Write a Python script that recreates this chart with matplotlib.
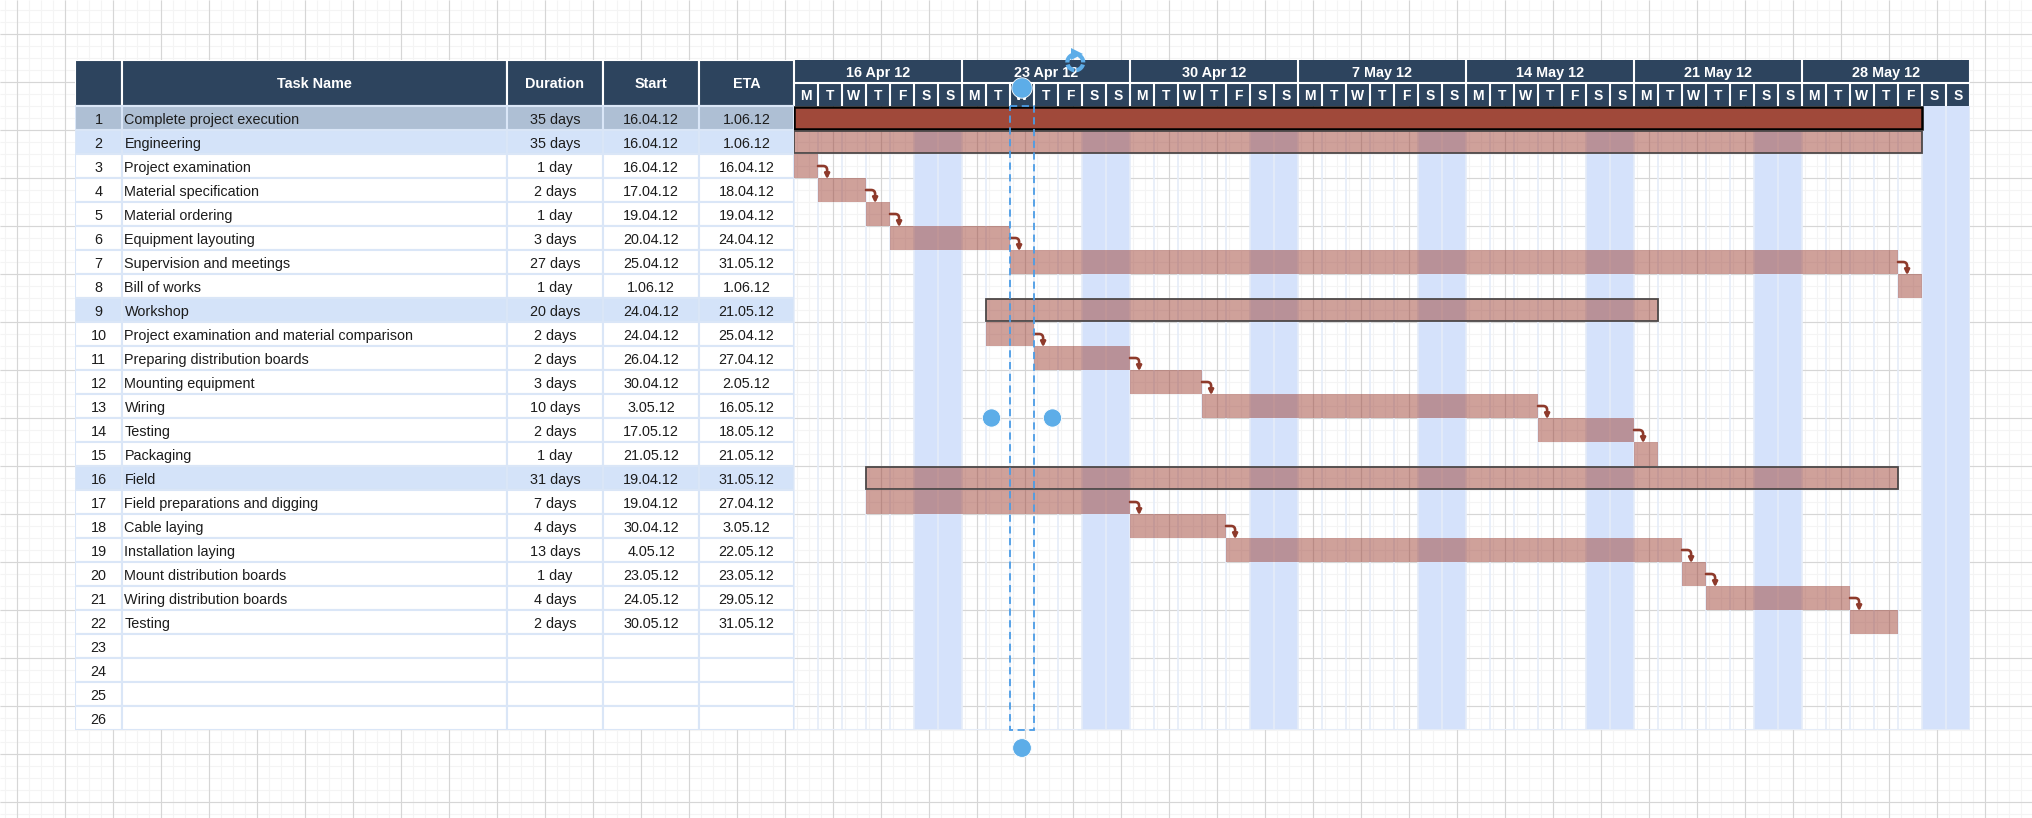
import numpy as np
import matplotlib
matplotlib.use('Agg')
import matplotlib.pyplot as plt
from matplotlib.patches import Rectangle, Ellipse
from datetime import datetime, timedelta

plt.rcParams['font.family'] = ['Liberation Sans', 'DejaVu Sans']

# ─── Données du planning ──────────────────────────────────────────────────
task_ids = list(range(1, 27))
task_names = ["Complete project execution", "Engineering", "Project examination",
              "Material specification", "Material ordering", "Equipment layouting",
              "Supervision and meetings", "Bill of works", "Workshop",
              "Project examination and material comparison", "Preparing distribution boards",
              "Mounting equipment", "Wiring", "Testing", "Packaging", "Field",
              "Field preparations and digging", "Cable laying", "Installation laying",
              "Mount distribution boards", "Wiring distribution boards", "Testing"]
durations = ["35 days", "35 days", "1 day", "2 days", "1 day", "3 days", "27 days", "1 day",
             "20 days", "2 days", "2 days", "3 days", "10 days", "2 days", "1 day", "31 days",
             "7 days", "4 days", "13 days", "1 day", "4 days", "2 days"]
starts = ["16.04.12", "16.04.12", "16.04.12", "17.04.12", "19.04.12", "20.04.12", "25.04.12",
          "1.06.12", "24.04.12", "24.04.12", "26.04.12", "30.04.12", "3.05.12", "17.05.12",
          "21.05.12", "19.04.12", "19.04.12", "30.04.12", "4.05.12", "23.05.12", "24.05.12",
          "30.05.12"]
etas = ["1.06.12", "1.06.12", "16.04.12", "18.04.12", "19.04.12", "24.04.12", "31.05.12",
        "1.06.12", "21.05.12", "25.04.12", "27.04.12", "2.05.12", "16.05.12", "18.05.12",
        "21.05.12", "31.05.12", "27.04.12", "3.05.12", "22.05.12", "23.05.12", "29.05.12",
        "31.05.12"]
project_row = 1
summary_rows = [2, 9, 16]
dependencies = [(3, 4), (4, 5), (5, 6), (6, 7), (7, 8), (10, 11), (11, 12), (12, 13),
                (13, 14), (14, 15), (17, 18), (18, 19), (19, 20), (20, 21), (21, 22)]
col_labels = ["", "Task Name", "Duration", "Start", "ETA"]
week_labels = ["16 Apr 12", "23 Apr 12", "30 Apr 12", "7 May 12", "14 May 12",
               "21 May 12", "28 May 12"]
day_letters = ["M", "T", "W", "T", "F", "S", "S"]
t0 = datetime(2012, 4, 16)
n_days = 49
n_rows = 26

# ─── Style ────────────────────────────────────────────────────────────────
NAVY = '#2d445e'
ROW1 = '#aebfd4'
HILITE = '#d4e3f9'
CELL_LINE = '#dae6f7'
WEEKEND = '#d5e2fb'
DAYLINE = '#e5ecf8'
BAR = (0.60, 0.216, 0.165, 0.47)
ARROW = '#8e3a2b'
SEL = '#4c9de6'
HANDLE = '#5dade8'
TXT = '#1c1c1c'
FS = 10.4

W, H = 2032, 818
fig = plt.figure(figsize=(W / 100, H / 100), dpi=100)

# fond quadrillé type éditeur
bg = fig.add_axes([0, 0, 1, 1])
bg.set_xlim(0, W); bg.set_ylim(H, 0); bg.axis('off')
bg.vlines(np.arange(5, W, 12), 0, H, color='#f4f4f4', lw=0.8)
bg.hlines(np.arange(10, H, 12), 0, W, color='#f4f4f4', lw=0.8)
bg.vlines(np.arange(17, W, 48), 0, H, color='#d6d6d6', lw=0.8)
bg.hlines(np.arange(34, H, 48), 0, W, color='#d6d6d6', lw=0.8)


def fig_rect(x0, x1, y0, y1):
    return [x0 / W, 1 - y1 / H, (x1 - x0) / W, (y1 - y0) / H]


hh = 46 / 24  # hauteur d'en-tête en unités de ligne
BL = 0.73     # position de la ligne de base dans une ligne

# ─── Tableau ──────────────────────────────────────────────────────────────
cols = [75, 122, 507, 603, 699, 794]
tx = fig.add_axes(fig_rect(cols[0], cols[-1], 60, 730))
tx.set_xlim(cols[0], cols[-1]); tx.set_ylim(n_rows, -hh); tx.axis('off')
for i, lab in enumerate(col_labels):
    tx.add_patch(Rectangle((cols[i], -hh), cols[i + 1] - cols[i], hh, facecolor=NAVY,
                           edgecolor='white', lw=1.5))
    tx.text((cols[i] + cols[i + 1]) / 2, -hh / 2 + 0.22, lab, color='white', fontsize=FS,
            fontweight='bold', ha='center', va='baseline')

for r in range(n_rows):
    tid = task_ids[r]
    fc = ROW1 if tid == project_row else (HILITE if tid in summary_rows else 'white')
    for i in range(5):
        tx.add_patch(Rectangle((cols[i], r), cols[i + 1] - cols[i], 1, facecolor=fc,
                               edgecolor=CELL_LINE, lw=1.5))
    tx.text((cols[0] + cols[1]) / 2, r + BL, str(tid), fontsize=FS, color=TXT,
            ha='center', va='baseline')
    if r < len(task_names):
        tx.text(cols[1] + 2.5, r + BL, task_names[r], fontsize=FS, color=TXT,
                ha='left', va='baseline')
        for i, v in zip((2, 3, 4), (durations[r], starts[r], etas[r])):
            tx.text((cols[i] + cols[i + 1]) / 2, r + BL, v, fontsize=FS, color=TXT,
                    ha='center', va='baseline')

# ─── Diagramme de Gantt ───────────────────────────────────────────────────
gx = fig.add_axes(fig_rect(794, 794 + 24 * n_days, 60, 730))
gx.set_xlim(0, n_days); gx.set_ylim(n_rows, -hh); gx.axis('off')

days = [t0 + timedelta(d) for d in range(n_days)]
for d, day in enumerate(days):
    if day.weekday() >= 5:
        gx.add_patch(Rectangle((d, 0), 1, n_rows, facecolor=WEEKEND, edgecolor='none', zorder=1))
gx.vlines(np.arange(n_days + 1), 0, n_rows, color=DAYLINE, lw=1.2, zorder=2)
gx.hlines(n_rows, 0, n_days, color=DAYLINE, lw=1.5, zorder=2)

# en-tête semaines / jours
gx.add_patch(Rectangle((0, -hh), n_days, hh, facecolor=NAVY, edgecolor='none', zorder=3))
gx.hlines(-hh / 2, 0, n_days, color='white', lw=1.5, zorder=4)
gx.vlines(np.arange(0, n_days + 1, 7), -hh, -hh / 2, color='white', lw=1.5, zorder=4)
gx.vlines(np.arange(n_days + 1), -hh / 2, 0, color='white', lw=1.5, zorder=4)
for w, lab in enumerate(week_labels):
    gx.text(7 * w + 3.5, -hh / 2 - 0.25, lab, color='white', fontsize=FS, fontweight='bold',
            ha='center', va='baseline', zorder=5)
for d, day in enumerate(days):
    gx.text(d + 0.5, -0.25, day_letters[day.weekday()], color='white', fontsize=10,
            fontweight='bold', ha='center', va='baseline', zorder=5)

# barres : une tâche suivie d'une autre s'étend jusqu'au début de la suivante
bar_left, bar_end = [], []
for s, e in zip(starts, etas):
    sd = datetime.strptime(s, '%d.%m.%y')
    ed = datetime.strptime(e, '%d.%m.%y')
    bar_left.append((sd - t0).days)
    bar_end.append((ed - t0).days + 1)
for a, b in dependencies:
    bar_end[a - 1] = max(bar_end[a - 1], bar_left[b - 1])

for r, (l, e) in enumerate(zip(bar_left, bar_end)):
    tid = task_ids[r]
    w = e - l
    if tid == project_row:
        gx.barh(r + 0.5, w, left=l, height=0.95, color='#a0493a', edgecolor='black',
                lw=1.8, zorder=3)
    elif tid in summary_rows:
        gx.barh(r + 0.5, w, left=l, height=0.95, color=BAR, edgecolor='#4d4848',
                lw=1.3, zorder=3)
    else:
        gx.barh(r + 0.5, w, left=l, height=0.96, color=BAR, edgecolor='none', zorder=3)

# liens de dépendance
for a, b in dependencies:
    ia, ib = a - 1, b - 1
    xe = bar_end[ia]
    gx.annotate('', xy=(xe + 0.38, ib + 0.05), xytext=(xe, ia + 0.5),
                arrowprops=dict(arrowstyle='-|>', color=ARROW, lw=1.9, mutation_scale=7,
                                shrinkA=0, shrinkB=0,
                                connectionstyle='angle,angleA=0,angleB=90,rad=4'),
                zorder=4)

# ─── Sélection (poignées de l'éditeur) ────────────────────────────────────
gx.add_patch(Rectangle((9, 0), 1, n_rows + 0.02, fill=False, edgecolor=SEL, lw=1.3,
                       ls=(0, (4, 2.5)), zorder=6, clip_on=False))
for (cx, cy, dm) in [(9.5, -0.75, 0.85), (8.23, 13.0, 0.76), (10.77, 13.0, 0.76),
                     (9.5, 26.75, 0.78)]:
    gx.add_patch(Ellipse((cx, cy), dm, dm, facecolor=HANDLE, edgecolor='white', lw=0.6,
                         zorder=7, clip_on=False))
# icône de rotation
rc_x, rc_y, rr = 11.72, -1.82, 0.33
th = np.deg2rad(np.linspace(-245, 65, 80))
gx.plot(rc_x + rr * np.cos(th), rc_y - rr * np.sin(th), color=HANDLE, lw=3.0,
        ls=(0, (2.2, 0.5)), solid_capstyle='butt', zorder=8, clip_on=False)
gx.plot([rc_x + 0.08], [rc_y - rr], marker='>', ms=8, color=HANDLE, mew=0,
        zorder=8, clip_on=False)

fig.savefig('out.png', dpi=100)
